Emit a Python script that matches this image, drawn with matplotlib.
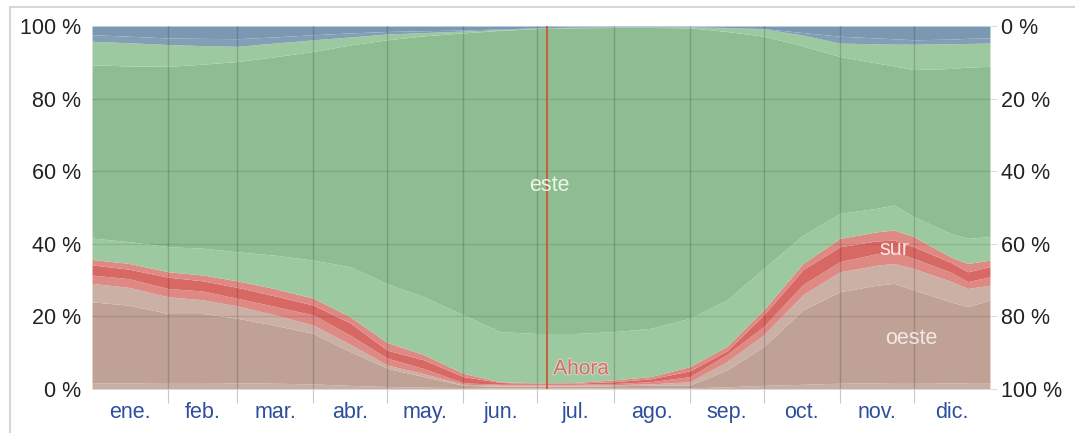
import numpy as np
import matplotlib.pyplot as plt
import matplotlib.patheffects as pe
from matplotlib.patches import Rectangle

plt.rcParams['font.family'] = ['Liberation Sans', 'DejaVu Sans']

# day of year of each sample
dias = [0, 15, 31, 45, 59, 74, 90, 105, 120, 135, 151, 166, 181, 196, 212,
        227, 243, 258, 273, 289, 304, 319, 326, 334, 349, 356, 365]

# cumulative boundaries in % (bottom to top)
franja_no = [1.6, 1.7, 1.8, 1.8, 1.7, 1.6, 1.4, 1.0, 0.7, 0.5, 0.4, 0.3, 0.3, 0.3, 0.3,
             0.3, 0.3, 0.6, 1.0, 1.3, 1.6, 1.7, 1.8, 1.8, 1.7, 1.6, 1.6]
oeste = [24.0, 23.1, 20.8, 20.8, 19.5, 17.6, 15.3, 10.3, 5.7, 3.4, 1.0, 0.8, 0.8, 0.8, 0.9,
         1.0, 1.1, 5.2, 11.7, 21.8, 26.8, 28.6, 29.1, 27.3, 24.0, 22.7, 24.5]
oeste_so = [29.1, 28.0, 25.4, 24.6, 22.9, 20.5, 17.6, 12.3, 6.6, 4.2, 1.3, 1.1, 1.1, 1.1, 1.2,
            1.4, 2.0, 7.5, 14.9, 26.0, 32.3, 34.1, 34.6, 33.2, 29.7, 27.7, 28.6]
sur_so = [31.4, 30.4, 27.7, 27.0, 25.0, 22.8, 20.4, 14.8, 8.5, 5.6, 1.7, 1.3, 1.3, 1.3, 1.5,
          2.0, 3.4, 9.5, 17.2, 28.8, 35.1, 37.3, 37.8, 36.0, 32.2, 29.6, 30.9]
sur = [34.2, 33.0, 30.8, 29.8, 28.0, 25.7, 23.1, 18.2, 10.7, 8.0, 3.4, 1.8, 1.5, 1.6, 2.0,
       2.8, 5.0, 10.5, 20.4, 32.9, 39.2, 40.8, 41.0, 39.2, 34.9, 32.3, 33.7]
sur_se = [35.7, 34.6, 32.3, 31.4, 29.8, 27.7, 25.0, 19.9, 12.8, 9.4, 4.3, 2.0, 1.7, 1.8, 2.5,
          3.4, 6.2, 11.7, 21.8, 34.6, 41.5, 43.3, 43.8, 42.0, 36.4, 34.6, 35.5]
este_se = [41.6, 40.6, 39.2, 38.8, 37.8, 36.9, 35.5, 33.7, 29.0, 25.4, 20.4, 15.8, 15.3, 15.3, 15.8,
           16.7, 19.5, 24.5, 33.2, 42.4, 48.4, 49.8, 50.7, 47.5, 42.9, 41.5, 42.0]
este = [89.3, 89.0, 88.9, 89.5, 90.2, 91.5, 93.0, 94.8, 96.2, 97.3, 98.1, 98.8, 99.3, 99.5, 99.6,
        99.6, 99.5, 98.5, 97.2, 94.5, 91.6, 89.8, 89.0, 88.0, 88.3, 88.7, 88.9]
este_ne = [95.8, 95.4, 94.9, 94.6, 94.4, 95.3, 96.2, 97.0, 97.8, 98.2, 98.6, 99.0, 99.4, 99.6, 99.7,
           99.7, 99.7, 99.5, 99.2, 97.5, 95.3, 95.1, 95.0, 95.0, 95.1, 95.2, 95.3]
norte_ne = [97.6, 97.2, 96.7, 96.6, 96.5, 97.0, 97.6, 98.1, 98.5, 98.7, 98.9, 99.2, 99.5, 99.7, 99.8,
            99.8, 99.8, 99.6, 99.3, 98.2, 97.2, 96.7, 96.5, 96.2, 96.4, 96.6, 96.7]
norte = [100] * len(dias)

meses = ["ene.", "feb.", "mar.", "abr.", "may.", "jun.", "jul.", "ago.", "sep.", "oct.", "nov.", "dic."]
inicio_mes = [0, 31, 59, 90, 120, 151, 181, 212, 243, 273, 304, 334, 365]
ahora = 185

capas = [franja_no, oeste, oeste_so, sur_so, sur, sur_se, este_se, este, este_ne, norte_ne, norte]
colores = ["#c9aea4", "#bfa195", "#cbb0a5", "#df8984", "#d86864", "#df8984",
           "#9dc9a0", "#8dbd90", "#9dc9a0", "#829fb6", "#7b98b2"]

fig = plt.figure(figsize=(10.75, 4.33), dpi=100)
ax = fig.add_axes([0.0856, 0.1016, 0.8353, 0.8383])

abajo = [0] * len(dias)
for capa, c in zip(capas, colores):
    ax.fill_between(dias, abajo, capa, color=c, lw=0)
    abajo = capa

ax.set_xlim(0, 365)
ax.set_ylim(0, 100)

# grid
for d in inicio_mes[1:-1]:
    ax.axvline(d, color="black", alpha=0.16, lw=1)
for v in [20, 40, 60, 80]:
    ax.axhline(v, color="black", alpha=0.1, lw=1)

ax.axvline(ahora, color="#cc5533", lw=1.3)
ax.text(ahora + 2.5, 5.6, "Ahora", color="#c0776b", fontsize=15, ha="left", va="center",
        path_effects=[pe.withStroke(linewidth=1.5, foreground="#ecccc2")])

ax.text(186, 56, "este", color="#edf5e8", fontsize=15.5, ha="center", va="center")
ax.text(326, 38.5, "sur", color="#f8e4e2", fontsize=15.5, ha="center", va="center")
ax.text(333, 14, "oeste", color="#f3e8e4", fontsize=15.5, ha="center", va="center")

for s in ax.spines.values():
    s.set_visible(False)

ax.set_xticks(inicio_mes[1:-1])
ax.set_xticklabels([])
ax.tick_params(axis="x", which="major", length=10, color="#c8c8c8")
medios = [(inicio_mes[i] + inicio_mes[i + 1]) / 2 for i in range(12)]
ax.set_xticks(medios, minor=True)
ax.set_xticklabels(meses, minor=True, color="#2d4e9c", fontsize=15.5)
ax.tick_params(axis="x", which="minor", length=0, pad=9)

ax.set_yticks([0, 20, 40, 60, 80, 100])
ax.set_yticklabels(["0 %", "20 %", "40 %", "60 %", "80 %", "100 %"], fontsize=15.5, color="#222222")
ax.tick_params(axis="y", length=0, pad=8)

ax2 = ax.twinx()
ax2.set_ylim(100, 0)
ax2.set_yticks([0, 20, 40, 60, 80, 100])
ax2.set_yticklabels(["0 %", "20 %", "40 %", "60 %", "80 %", "100 %"], fontsize=15.5, color="#222222")
ax2.tick_params(axis="y", length=5, color="#dddddd", pad=3)
for s in ax2.spines.values():
    s.set_visible(False)

# borde de la captura
fig.add_artist(Rectangle((10 / 1075, -0.1), 1.2, (433 - 7) / 433 + 0.1, transform=fig.transFigure,
                         fill=False, ec="#d6d6d6", lw=1.5))

fig.savefig("out.png", dpi=100)
